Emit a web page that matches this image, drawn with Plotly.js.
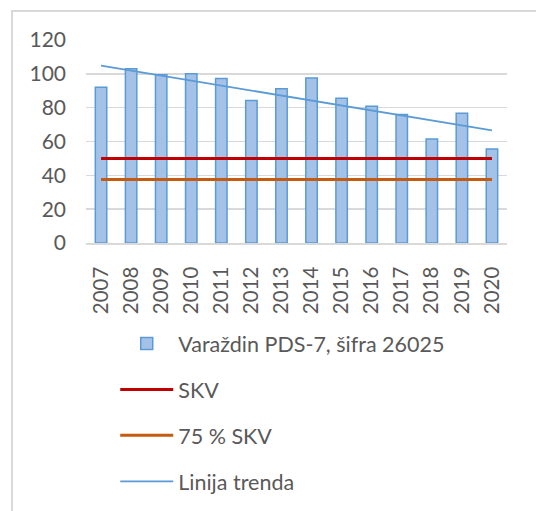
<!DOCTYPE html>
<html>
<head>
<meta charset="utf-8">
<script src="https://cdn.plot.ly/plotly-3.0.1.min.js"></script>
<style>
html,body{margin:0;padding:0;background:#fff;}
#wrap{position:relative;width:536px;height:511px;overflow:hidden;}
#chart{position:absolute;left:0;top:0;width:536px;height:511px;}
#frame{position:absolute;left:11px;top:10px;width:600px;height:600px;border-left:2px solid #D9D9D9;border-top:2px solid #D9D9D9;pointer-events:none;}
</style>
</head>
<body>
<div id="wrap"><div id="chart"></div><div id="frame"></div></div>
<script>
const years = ['2007','2008','2009','2010','2011','2012','2013','2014','2015','2016','2017','2018','2019','2020'];
const values = [92, 103, 99.5, 100, 97.3, 84.3, 91.2, 97.5, 85.5, 80.8, 76, 61.5, 76.7, 55.6];
const skv = [50,50,50,50,50,50,50,50,50,50,50,50,50,50];
const skv75 = [37.5,37.5,37.5,37.5,37.5,37.5,37.5,37.5,37.5,37.5,37.5,37.5,37.5,37.5];
const trendYears = ['2007','2020'];
const trendValues = [104.8, 66.6];
const yTicks = [0,20,40,60,80,100,120];
const names = ['Varaždin PDS-7, šifra 26025','SKV','75 % SKV','Linija trenda'];

const font = 'Lato, "Open Sans", sans-serif';
const traces = [
  {type:'bar', x:years, y:values, name:names[0], legendgroup:'a',
   marker:{color:'#A4C2E8', line:{color:'#5B9BD5', width:1.5}}},
  {type:'scatter', mode:'lines', x:years, y:skv, name:names[1], legendgroup:'b',
   line:{color:'#C00000', width:3}},
  {type:'scatter', mode:'lines', x:years, y:skv75, name:names[2], legendgroup:'c',
   line:{color:'#C55A11', width:3}},
  {type:'scatter', mode:'lines', x:trendYears, y:trendValues, name:names[3], legendgroup:'d',
   line:{color:'#5B9BD5', width:1.8}}
];
const layout = {
  width:536, height:511,
  margin:{l:86, r:29, t:40, b:268, autoexpand:false},
  paper_bgcolor:'#fff', plot_bgcolor:'#fff',
  font:{family:font, size:21, color:'#595959'},
  bargap:0.62,
  showlegend:true,
  legend:{orientation:'v', xref:'container', yref:'container', x:0.215, y:0.368, xanchor:'left', yanchor:'top',
    traceorder:'grouped', tracegroupgap:15, itemwidth:53, font:{family:font, size:21.5, color:'#595959'}},
  xaxis:{type:'category', categoryorder:'array', categoryarray:years, tickmode:'array', tickvals:years, ticktext:years,
    tickangle:-90, automargin:false,
    showgrid:false, showline:true, linecolor:'#D9D9D9', linewidth:1.5, ticks:'', ticklabelstandoff:14,
    tickfont:{family:font, size:20.5, color:'#595959'}},
  yaxis:{range:[0,120], tickvals:yTicks, showgrid:true, gridcolor:'#D9D9D9', gridwidth:1.5, automargin:false,
    zeroline:false, showline:false, ticks:'', ticklabelstandoff:19,
    tickfont:{family:font, size:21, color:'#595959'}}
};
Plotly.newPlot('chart', traces, layout, {displayModeBar:false, staticPlot:true});
</script>
</body>
</html>
